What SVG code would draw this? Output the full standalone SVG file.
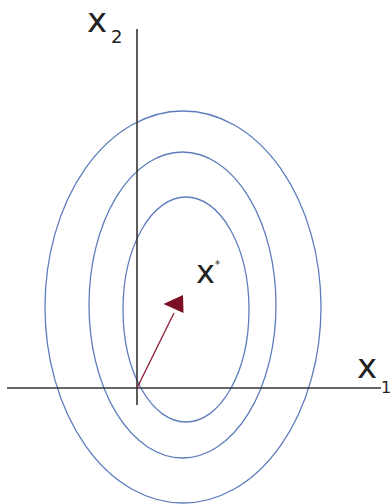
<svg xmlns="http://www.w3.org/2000/svg" width="392" height="504" viewBox="0 0 392 504">
<defs>
<style>
.contour{fill:none;stroke:#5f7dbd;stroke-width:1.3}
.axis{stroke:#333;stroke-width:1.6;fill:none}
.lbl{font-family:"DejaVu Sans",sans-serif;fill:#222}
</style>
</defs>
<rect width="392" height="504" fill="#fff"/>
<g id="contours">
<ellipse id="outer" class="contour" cx="183" cy="307" rx="138" ry="196"/>
<ellipse id="middle" class="contour" cx="182.5" cy="305" rx="93.5" ry="153"/>
<ellipse id="inner" class="contour" cx="186" cy="309.5" rx="63" ry="112.5"/>
</g>
<g id="connectors">
<line class="axis" x1="7" y1="388" x2="381" y2="388"/>
<line class="axis" x1="137" y1="29" x2="137" y2="405"/>
<path d="M137,388 L174,313" stroke="#8b1a30" stroke-width="1.3" fill="none"/>
<polygon points="183,295 183.5,313 163.5,304" fill="#7d0f25"/>
</g>
<g id="labels">
<text class="lbl" x="87" y="32" font-size="34">x</text>
<text class="lbl" x="111" y="43" font-size="18">2</text>
<text class="lbl" x="196" y="283" font-size="32">x</text>
<text class="lbl" x="215" y="268" font-size="10">*</text>
<text class="lbl" x="357" y="378" font-size="34">x</text>
<text class="lbl" x="381" y="393" font-size="16">1</text>
</g>
</svg>
